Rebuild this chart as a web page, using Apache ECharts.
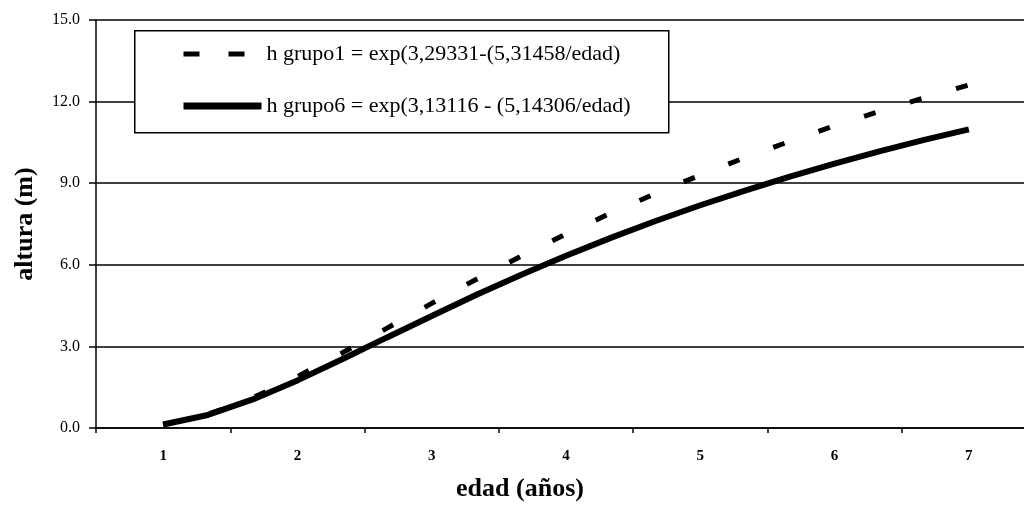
<!DOCTYPE html>
<html>
<head>
<meta charset="utf-8">
<script src="https://cdn.jsdelivr.net/npm/echarts@6/dist/echarts.min.js"></script>
<style>html,body{margin:0;padding:0;background:#fff}#c{width:1024px;height:505px}</style>
</head>
<body>
<div id="c"></div>
<script>
const categories = ['1','2','3','4','5','6','7'];
const edad = [1, 1.333, 1.667, 2, 2.333, 2.667, 3, 3.333, 3.667, 4, 4.333, 4.667, 5, 5.333, 5.667, 6, 6.333, 6.667, 7];
const grupo1 = [0.13, 0.50, 1.11, 1.89, 2.76, 3.67, 4.58, 5.47, 6.32, 7.13, 7.90, 8.62, 9.30, 9.94, 10.54, 11.11, 11.64, 12.14, 12.61];
const grupo6 = [0.13, 0.48, 1.05, 1.75, 2.53, 3.33, 4.12, 4.90, 5.63, 6.33, 6.99, 7.61, 8.19, 8.73, 9.24, 9.72, 10.17, 10.59, 10.98];
const yTicks = [0, 3, 6, 9, 12, 15];
const names = ['h grupo1 = exp(3,29331-(5,31458/edad)', 'h grupo6 = exp(3,13116 - (5,14306/edad)'];

const serif = '"Liberation Serif", "DejaVu Serif", serif';
const chart = echarts.init(document.getElementById('c'), null, {renderer: 'canvas'});
chart.setOption({
  animation: false,
  backgroundColor: '#fff',
  grid: {left: 96, top: 20, width: 940, height: 408, containLabel: false, outerBoundsMode: 'none'},
  xAxis: [{
    type: 'category', data: categories, boundaryGap: true,
    name: 'edad (años)', nameLocation: 'middle', nameGap: 48,
    nameTextStyle: {fontFamily: serif, fontSize: 26, fontWeight: 'bold', color: '#000', padding: [0, 92, 0, 0]},
    axisLine: {lineStyle: {color: '#000', width: 1.5}},
    axisTick: {show: true, length: 5, alignWithLabel: false, lineStyle: {color: '#000', width: 1.5}},
    axisLabel: {fontFamily: serif, fontSize: 15, fontWeight: 'bold', color: '#000', margin: 21},
    splitLine: {show: false}
  }, {
    type: 'value', min: 0.5, max: 7.5, show: false, gridIndex: 0
  }],
  yAxis: {
    type: 'value', min: yTicks[0], max: yTicks[yTicks.length - 1], interval: 3,
    name: 'altura (m)', nameLocation: 'middle', nameGap: 58,
    nameTextStyle: {fontFamily: serif, fontSize: 26, fontWeight: 'bold', color: '#000'},
    axisLine: {show: true, lineStyle: {color: '#000', width: 1.5}},
    axisTick: {show: true, length: 7, lineStyle: {color: '#000', width: 1.5}},
    axisLabel: {fontFamily: serif, fontSize: 16, color: '#000', margin: 16, formatter: v => v.toFixed(1)},
    splitLine: {show: true, lineStyle: {color: '#000', width: 1.5}}
  },
  graphic: [{
    type: 'rect', z: 3, left: 134, top: 30,
    shape: {width: 534, height: 102},
    style: {fill: '#fff', stroke: '#000', lineWidth: 1.5}
  }],
  legend: {
    orient: 'vertical', left: 180, top: 42, z: 10, padding: 0,
    itemWidth: 78, itemHeight: 6, itemGap: 28,
    itemStyle: {opacity: 0},
    textStyle: {fontFamily: serif, fontSize: 22, color: '#000', lineHeight: 24},
    data: [
      {name: names[0], lineStyle: {width: 5, type: [16, 29], color: '#000', cap: 'butt'}},
      {name: names[1], lineStyle: {width: 7, type: 'solid', color: '#000'}}
    ]
  },
  series: [{
    name: names[0], type: 'line', xAxisIndex: 1, symbol: 'none', color: '#000',
    data: edad.map((x, i) => [x, grupo1[i]]),
    lineStyle: {color: '#000', width: 5, type: [12, 36], cap: 'butt'}
  }, {
    name: names[1], type: 'line', xAxisIndex: 1, symbol: 'none', color: '#000',
    data: edad.map((x, i) => [x, grupo6[i]]),
    lineStyle: {color: '#000', width: 6, type: 'solid'}
  }]
});
</script>
</body>
</html>
